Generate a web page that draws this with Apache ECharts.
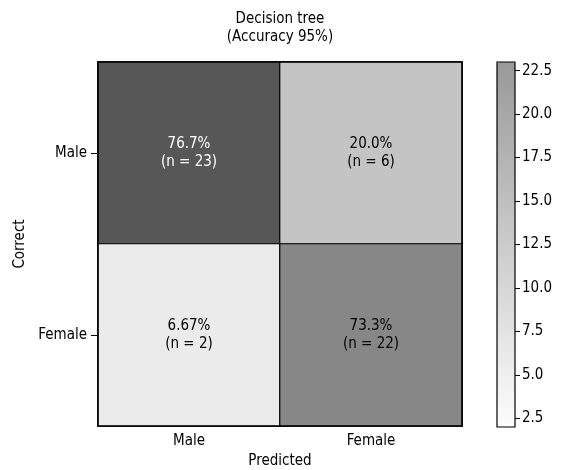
<!DOCTYPE html>
<html>
<head>
<meta charset="utf-8">
<script src="https://cdn.jsdelivr.net/npm/echarts@6/dist/echarts.min.js"></script>
<style>
  html, body { margin: 0; padding: 0; background: #fff; }
  #chart { width: 564px; height: 470px; }
</style>
</head>
<body>
<div id="chart"></div>
<script>
// confusion matrix data
const predictedLabels = ['Male', 'Female']
const correctLabels = ['Male', 'Female']
// [predicted index, correct index, count]
const counts = [
    [0, 0, 23],
    [1, 0, 6],
    [0, 1, 2],
    [1, 1, 22]
]
const percents = [76.7, 20.0, 6.67, 73.3]
const colorbarTicks = [2.5, 5, 7.5, 10, 12.5, 15, 17.5, 20, 22.5]
const colorMin = 2
const colorMax = 23

const font = '"Liberation Sans Narrow", "DejaVu Sans Condensed", sans-serif'
const fs = 15

const myChart = echarts.init(document.getElementById('chart'))

const cellData = counts.map((c, i) => ({
    value: c,
    pct: percents[i],
    // white text on the darkest cell
    label: c[2] >= 23 ? { color: '#fff' } : undefined
}))

const option = {
    animation: false,
    textStyle: { fontFamily: font },
    title: {
        text: 'Decision tree\n(Accuracy 95%)',
        left: 275,
        textAlign: 'center',
        top: 5,
        textStyle: {
            fontFamily: font,
            fontSize: fs,
            fontWeight: 'normal',
            color: '#000',
            lineHeight: 18
        }
    },
    grid: [
        {
            left: 98, top: 62, width: 364, height: 364,
            outerBoundsMode: 'none',
            containLabel: false,
            show: true, borderColor: '#000', borderWidth: 1.5,
            backgroundColor: 'transparent', z: 10
        },
        {
            // colorbar frame + ticks
            left: 497, top: 62, width: 18, height: 365,
            outerBoundsMode: 'none',
            containLabel: false,
            show: true, borderColor: '#000', borderWidth: 1.2,
            backgroundColor: 'transparent', z: 10
        }
    ],
    xAxis: [
        {
            type: 'category',
            gridIndex: 0,
            data: predictedLabels,
            name: 'Predicted',
            nameLocation: 'middle',
            nameGap: 28,
            nameTextStyle: { fontFamily: font, fontSize: fs, color: '#000' },
            axisLine: { show: false },
            axisTick: { show: false },
            axisLabel: { fontFamily: font, fontSize: fs, color: '#000', margin: 8 },
            splitLine: { show: false }
        },
        {
            type: 'category',
            gridIndex: 1,
            data: [''],
            show: false
        }
    ],
    yAxis: [
        {
            type: 'category',
            gridIndex: 0,
            data: correctLabels,
            inverse: true,
            name: 'Correct',
            nameLocation: 'middle',
            nameGap: 66,
            nameTextStyle: { fontFamily: font, fontSize: fs, color: '#000' },
            axisLine: { show: false },
            axisTick: { show: true, alignWithLabel: true, length: 7, lineStyle: { color: '#000' } },
            axisLabel: { fontFamily: font, fontSize: fs, color: '#000', margin: 11 },
            splitLine: { show: false }
        },
        {
            type: 'value',
            gridIndex: 1,
            position: 'right',
            min: colorMin,
            max: colorMax,
            z: 10,
            axisLine: { show: false, onZero: false },
            splitLine: { show: false },
            axisTick: {
                show: true, inside: false, length: 5,
                customValues: colorbarTicks,
                lineStyle: { color: '#000' }
            },
            axisLabel: {
                fontFamily: font, fontSize: fs, color: '#000', margin: 7,
                customValues: colorbarTicks,
                formatter: v => v.toFixed(1)
            }
        }
    ],
    visualMap: [
        {
            type: 'piecewise',
            show: false,
            seriesIndex: 0,
            dimension: 2,
            pieces: [
                { value: 2, color: '#ebebeb' },
                { value: 6, color: '#c4c4c4' },
                { value: 22, color: '#878787' },
                { value: 23, color: '#575757' }
            ]
        },
        {
            type: 'continuous',
            seriesIndex: 1,
            min: colorMin,
            max: colorMax,
            calculable: false,
            left: 497,
            top: 62,
            padding: 0,
            itemWidth: 18,
            itemHeight: 365,
            text: ['', ''],
            showLabel: false,
            inRange: { color: ['#fdfdfd', '#999999'] }
        }
    ],
    series: [
        {
            type: 'heatmap',
            xAxisIndex: 0,
            yAxisIndex: 0,
            data: cellData,
            itemStyle: { borderColor: '#000', borderWidth: 1.2 },
            label: {
                show: true,
                fontFamily: font,
                fontSize: fs,
                lineHeight: 18,
                formatter: p => p.data.pct.toPrecision(3) + '%\n(n = ' + p.data.value[2] + ')',
                color: '#000'
            },
            emphasis: { disabled: true }
        },
        {
            type: 'scatter',
            xAxisIndex: 1,
            yAxisIndex: 1,
            data: [],
            silent: true
        }
    ]
}

option && myChart.setOption(option)
</script>
</body>
</html>
